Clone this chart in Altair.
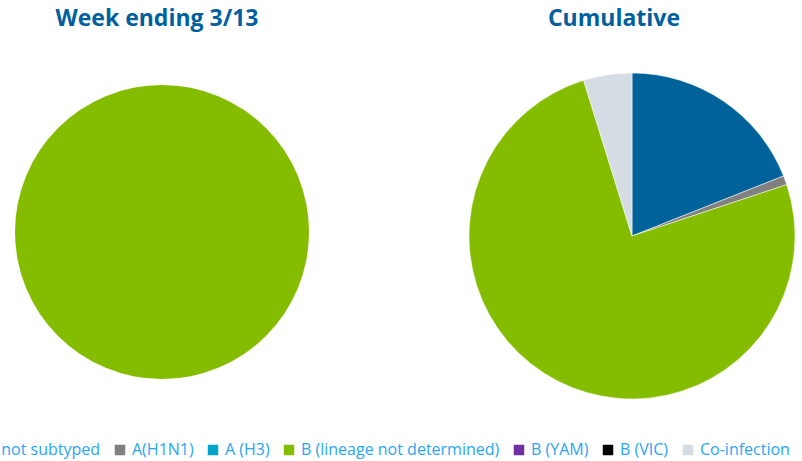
import altair as alt
import pandas as pd

categories = ["A not subtyped", "A(H1N1)", "A (H3)", "B (lineage not determined)",
              "B (YAM)", "B (VIC)", "Co-infection"]
colors = ["#00629b", "#808080", "#00a5c8", "#84bd00", "#7030a0", "#000000", "#d5dce4"]
week_values = [0, 0, 0, 100, 0, 0, 0]
cumulative_values = [19.0, 0.9, 0, 75.3, 0, 0, 4.8]
titles = ["Week ending 3/13", "Cumulative"]

week_df = pd.DataFrame({"cat": categories, "value": week_values, "order": range(7)})
cum_df = pd.DataFrame({"cat": categories, "value": cumulative_values, "order": range(7)})

color = alt.Color(
    "cat:N",
    scale=alt.Scale(domain=categories, range=colors),
    legend=alt.Legend(
        title=None, orient="none", legendX=-33, legendY=442, direction="horizontal",
        columns=7, symbolType="square", symbolSize=110, symbolStrokeWidth=0,
        labelFont="Open Sans", labelFontSize=16, labelColor="#2aa6f2",
        labelOffset=4, columnPadding=11, labelLimit=400,
    ),
)

week = alt.Chart(week_df).transform_filter("datum.value > 0").mark_arc(radius=147).encode(
    theta=alt.Theta("value:Q", stack=True),
    color=color,
    order=alt.Order("order:Q"),
    x=alt.value(162), y=alt.value(232),
)

cum = alt.Chart(cum_df).transform_filter("datum.value > 0").mark_arc(
    radius=163, stroke="white", strokeWidth=0.5
).encode(
    theta=alt.Theta("value:Q", stack=True),
    color=color,
    order=alt.Order("order:Q"),
    x=alt.value(632), y=alt.value(236),
)

t1 = alt.Chart(pd.DataFrame({"t": [titles[0]]})).mark_text(
    font="Open Sans", fontSize=23, fontWeight="bold", color="#005f9e", baseline="middle"
).encode(text="t:N", x=alt.value(157), y=alt.value(19))
t2 = alt.Chart(pd.DataFrame({"t": [titles[1]]})).mark_text(
    font="Open Sans", fontSize=23, fontWeight="bold", color="#005f9e", baseline="middle"
).encode(text="t:N", x=alt.value(614), y=alt.value(19))

chart = alt.layer(week, cum, t1, t2).resolve_scale(theta="independent").properties(
    width=802, height=461, autosize=alt.AutoSizeParams(type="none"),
    padding=0, background="white",
).configure_view(stroke=None)

chart.save("out.html", embed_options={"renderer": "svg", "actions": False})
